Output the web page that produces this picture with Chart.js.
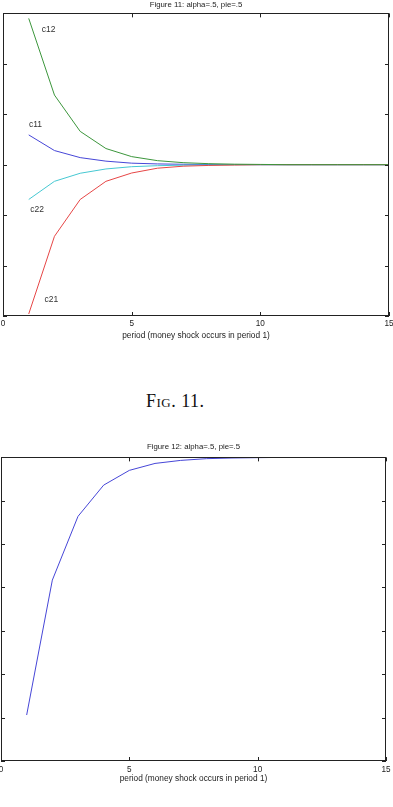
<!DOCTYPE html>
<html>
<head>
<meta charset="utf-8">
<script src="https://cdn.jsdelivr.net/npm/chart.js@4/dist/chart.umd.min.js"></script>
<style>
  body { margin: 0; background: #fff; width: 393px; height: 807px; position: relative; overflow: hidden; }
  canvas { position: absolute; left: 0; }
  #fig11 { top: 0; }
  #fig12 { top: 440px; }
  .caption {
    position: absolute; left: 146px; top: 392px;
    font-family: "Liberation Serif", "DejaVu Serif", serif;
    font-variant: small-caps; font-size: 18px; line-height: 18px;
    letter-spacing: 0.5px; color: #111;
  }
</style>
</head>
<body>
<canvas id="fig11" width="393" height="345"></canvas>
<div class="caption">Fig. 11.</div>
<canvas id="fig12" width="393" height="350"></canvas>
<script>
// Periods 1..15 (money shock in period 1)
const periods = [1, 2, 3, 4, 5, 6, 7, 8, 9, 10, 11, 12, 13, 14, 15];
const xTicks = [0, 5, 10, 15];

// Figure 11 series (deviations from steady state)
const c11 = [0.59, 0.28, 0.14, 0.07, 0.03, 0.015, 0.008, 0.004, 0.002, 0, 0, 0, 0, 0, 0];
const c12 = [2.90, 1.38, 0.66, 0.32, 0.16, 0.08, 0.04, 0.02, 0.01, 0.005, 0, 0, 0, 0, 0];
const c21 = [-2.96, -1.42, -0.69, -0.33, -0.165, -0.07, -0.03, -0.015, -0.007, 0, 0, 0, 0, 0, 0];
const c22 = [-0.69, -0.33, -0.17, -0.085, -0.04, -0.02, -0.01, -0.005, 0, 0, 0, 0, 0, 0, 0];

// Figure 12 series
const fig12Values = [1.06, 4.17, 5.64, 6.36, 6.70, 6.86, 6.93, 6.97, 6.985, 6.993, 7, 7, 7, 7, 7];

const textColor = '#222';
const fontFamily = '"Liberation Sans", Arial, sans-serif';

function toPoints(values) {
  return periods.map((p, i) => ({ x: p, y: values[i] }));
}

// Frame with inward ticks on all four sides, matplotlib style
const framePlugin = {
  id: 'frame',
  afterDraw(chart) {
    const { ctx, chartArea: a, scales } = chart;
    const len = 4;
    ctx.save();
    ctx.strokeStyle = '#222';
    ctx.lineWidth = 1;
    ctx.beginPath();
    for (const t of scales.x.ticks) {
      const px = Math.round(scales.x.getPixelForValue(t.value)) + 0.5;
      ctx.moveTo(px, a.bottom); ctx.lineTo(px, a.bottom - len);
      ctx.moveTo(px, a.top); ctx.lineTo(px, a.top + len);
    }
    for (const t of scales.y.ticks) {
      const py = Math.round(scales.y.getPixelForValue(t.value)) + 0.5;
      ctx.moveTo(a.left, py); ctx.lineTo(a.left + len, py);
      ctx.moveTo(a.right, py); ctx.lineTo(a.right - len, py);
    }
    ctx.stroke();
    ctx.strokeRect(Math.round(a.left) + 0.5, Math.round(a.top) + 0.5,
      Math.round(a.right - a.left) - 1, Math.round(a.bottom - a.top) - 1);
    ctx.restore();
  }
};

// Text labels placed in data coordinates
const seriesLabelPlugin = {
  id: 'seriesLabels',
  afterDraw(chart, args, opts) {
    if (!opts.items) return;
    const { ctx, scales } = chart;
    ctx.save();
    ctx.fillStyle = '#333';
    ctx.font = '8.5px ' + fontFamily;
    ctx.textAlign = 'center';
    ctx.textBaseline = 'middle';
    for (const item of opts.items) {
      ctx.fillText(item.text, scales.x.getPixelForValue(item.x), scales.y.getPixelForValue(item.y));
    }
    ctx.restore();
  }
};

function makeOptions(cfg) {
  return {
    responsive: false,
    animation: false,
    devicePixelRatio: 1,
    layout: { padding: cfg.padding, autoPadding: false },
    plugins: {
      legend: { display: false },
      tooltip: { enabled: false },
      title: {
        display: true,
        text: cfg.title,
        color: textColor,
        font: { family: fontFamily, size: 7.8, weight: 'normal', lineHeight: 1.2 },
        padding: cfg.titlePadding,
      },
      seriesLabels: { items: cfg.labels || [] },
    },
    scales: {
      x: {
        type: 'linear',
        min: 0,
        max: 15,
        afterBuildTicks: (scale) => { scale.ticks = xTicks.map((v) => ({ value: v })); },
        grid: { display: false, drawTicks: false },
        border: { display: false },
        ticks: {
          color: textColor,
          font: { family: fontFamily, size: 8.2 },
          padding: cfg.tickPadding,
          maxRotation: 0,
          autoSkip: false,
        },
        title: {
          display: true,
          text: 'period (money shock occurs in period 1)',
          color: textColor,
          font: { family: fontFamily, size: 8.3, lineHeight: 1.2 },
          padding: { top: 0, bottom: cfg.axisTitlePad },
        },
        afterFit: (scale) => {
          scale.height = cfg.xHeight;
          scale.paddingLeft = 0;
          scale.paddingRight = 0;
        },
      },
      y: {
        type: 'linear',
        min: cfg.yMin,
        max: cfg.yMax,
        ticks: { display: false, stepSize: 1 },
        grid: { display: false, drawTicks: false },
        border: { display: false },
        afterFit: (scale) => {
          scale.width = 0;
          scale.paddingTop = 0;
          scale.paddingBottom = 0;
        },
      },
    },
  };
}

function lineSet(values, color) {
  return {
    data: toPoints(values),
    borderColor: color,
    borderWidth: 1,
    pointRadius: 0,
    tension: 0,
    fill: false,
  };
}

new Chart(document.getElementById('fig11'), {
  type: 'line',
  data: {
    datasets: [
      lineSet(c12, 'rgb(60, 150, 60)'),
      lineSet(c21, 'rgb(230, 70, 70)'),
      lineSet(c22, 'rgb(70, 200, 210)'),
      lineSet(c11, 'rgb(70, 70, 215)'),
    ],
  },
  options: makeOptions({
    title: 'Figure 11: alpha=.5, pie=.5',
    padding: { top: 0, left: 3, right: 4, bottom: 0 },
    titlePadding: { top: 0, bottom: 4 },
    tickPadding: 3,
    axisTitlePad: 4.5,
    xHeight: 29,
    yMin: -3,
    yMax: 3,
    labels: [
      { text: 'c12', x: 1.77, y: 2.68 },
      { text: 'c11', x: 1.26, y: 0.79 },
      { text: 'c22', x: 1.33, y: -0.89 },
      { text: 'c21', x: 1.88, y: -2.68 },
    ],
  }),
  plugins: [framePlugin, seriesLabelPlugin],
});

new Chart(document.getElementById('fig12'), {
  type: 'line',
  data: {
    datasets: [lineSet(fig12Values, 'rgb(70, 70, 215)')],
  },
  options: makeOptions({
    title: 'Figure 12: alpha=.5, pie=.5',
    padding: { top: 2.5, left: 1, right: 7, bottom: 0 },
    titlePadding: { top: 0, bottom: 5.5 },
    tickPadding: 3.5,
    axisTitlePad: 6.5,
    xHeight: 29,
    yMin: 0,
    yMax: 7,
  }),
  plugins: [framePlugin, seriesLabelPlugin],
});
</script>
</body>
</html>
